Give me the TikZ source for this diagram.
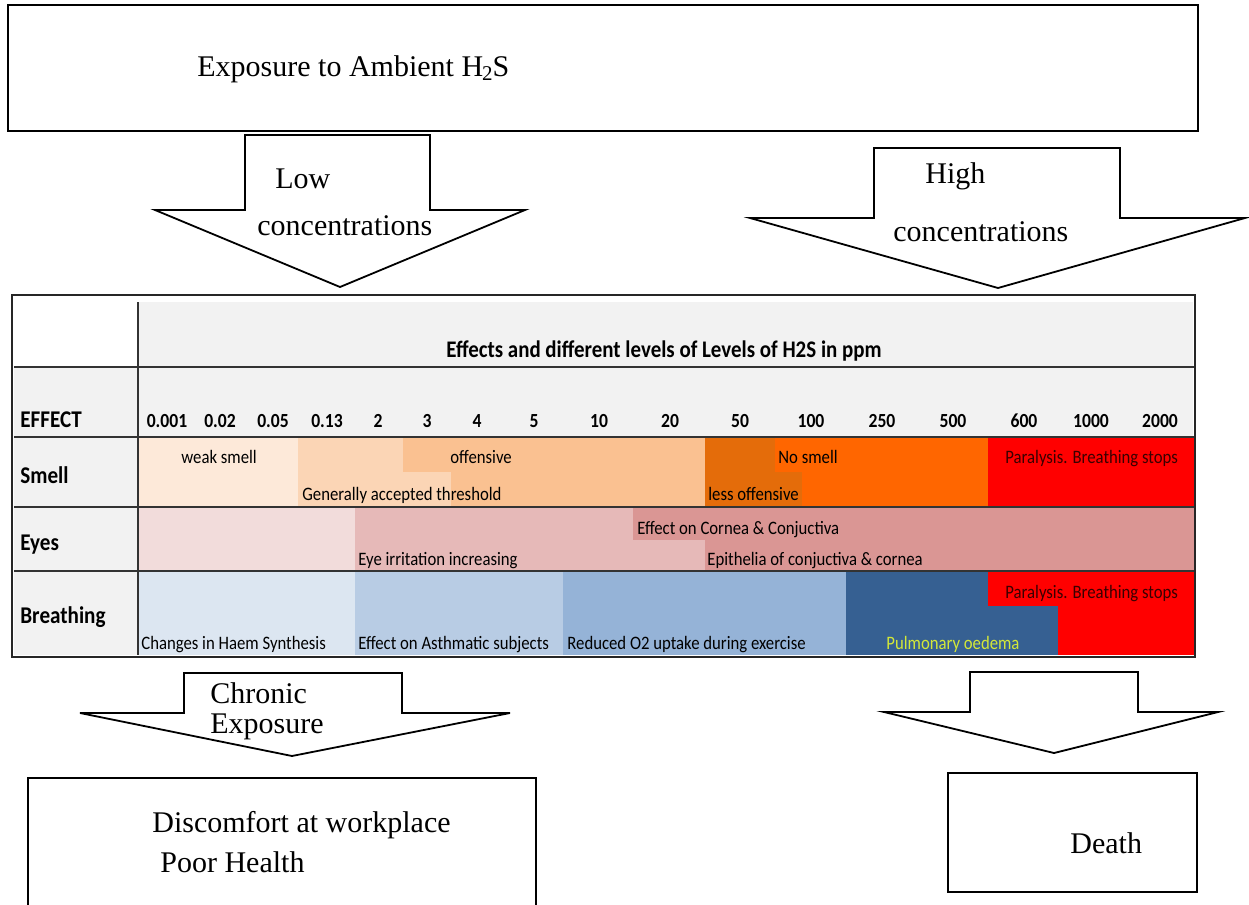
\documentclass[tikz,border=0pt]{standalone}
\usepackage{fontspec}
\setmainfont{Liberation Serif}
\newfontfamily\tabfont{Carlito}[FakeStretch=0.88]
\definecolor{hdr}{HTML}{F2F2F2}
\definecolor{smA}{HTML}{FDE9D9}
\definecolor{smB}{HTML}{FBD5B5}
\definecolor{smC}{HTML}{FAC191}
\definecolor{smD}{HTML}{E46C0A}
\definecolor{smE}{HTML}{FF6600}
\definecolor{hot}{HTML}{FF0000}
\definecolor{eyA}{HTML}{F2DCDB}
\definecolor{eyB}{HTML}{E6B9B8}
\definecolor{eyC}{HTML}{DA9694}
\definecolor{brA}{HTML}{DCE6F1}
\definecolor{brB}{HTML}{B8CCE4}
\definecolor{brC}{HTML}{95B3D7}
\definecolor{brD}{HTML}{366092}
\definecolor{pulm}{HTML}{D4E838}
\definecolor{darkred}{HTML}{3A0000}
\definecolor{gridc}{HTML}{333333}
\begin{document}
\begin{tikzpicture}[x=0.5pt,y=-0.5pt,
  serif/.style={font=\fontsize{15}{18}\selectfont, inner sep=0pt, anchor=base west},
  cell/.style={font=\tabfont\fontsize{9.5}{11}\selectfont, inner sep=0pt, anchor=base west, text=black},
  lab/.style={font=\tabfont\bfseries\fontsize{12}{14}\selectfont, inner sep=0pt, anchor=base west, text=black},
  num/.style={font=\tabfont\bfseries\fontsize{10}{12}\selectfont, inner sep=0pt, anchor=base, text=black},
  blockarrow/.style={draw=black, line width=0.9pt, fill=white, line join=miter},
  boxline/.style={draw=black, line width=0.9pt},
  gridline/.style={draw=gridc, line width=1.1pt}]
\useasboundingbox (0,0) rectangle (1249,905);
\fill[white] (0,0) rectangle (1249,905);

% top box
\draw[boxline] (8,5) rectangle (1198,131);
\node[serif] (expo) at (197,76) {Exposure to Ambient H\kern-0.5pt\textsubscript{2}\kern-0.5pt S};

% low / high arrows
\draw[blockarrow] (245,135) -- (430,135) -- (430,210) -- (525,210) -- (340,287) -- (155,210) -- (245,210) -- cycle;
\node[serif] (low1) at (275,188) {Low};
\node[serif] (low2) at (257,235) {concentrations};
\draw[blockarrow] (874,148) -- (1120,148) -- (1120,218) -- (1245,218) -- (998,288) -- (750,218) -- (874,218) -- cycle;
\node[serif] (high1) at (925,183) {High};
\node[serif] (high2) at (893,241) {concentrations};

% table backgrounds
\fill[white] (12,295) rectangle (1195,657);
\fill[hdr] (138,302) rectangle (1193,437);
\fill[hdr] (14,367) rectangle (138,655);
% smell row
\fill[smA] (138,437) rectangle (298,507);
\fill[smB] (298,437) rectangle (403,472);
\fill[smB] (298,472) rectangle (451,507);
\fill[smC] (403,437) rectangle (705,472);
\fill[smC] (451,472) rectangle (705,507);
\fill[smD] (705,437) rectangle (775,472);
\fill[smD] (705,472) rectangle (802,507);
\fill[smE] (775,437) rectangle (988,472);
\fill[smE] (802,472) rectangle (988,507);
\fill[hot] (988,437) rectangle (1195,507);
% eyes row
\fill[eyA] (138,507) rectangle (355,571);
\fill[eyB] (355,507) rectangle (633,540);
\fill[eyB] (355,540) rectangle (705,571);
\fill[eyC] (633,507) rectangle (1195,540);
\fill[eyC] (705,540) rectangle (1195,571);
% breathing row
\fill[brA] (138,571) rectangle (355,655);
\fill[brB] (355,571) rectangle (563,655);
\fill[brC] (563,571) rectangle (846,655);
\fill[brD] (846,571) rectangle (988,606);
\fill[brD] (846,606) rectangle (1058,655);
\fill[hot] (988,571) rectangle (1195,606);
\fill[hot] (1058,606) rectangle (1195,655);

% grid
\draw[gridline] (14,367) -- (1195,367);
\draw[gridline] (14,437) -- (1195,437);
\draw[gridline] (14,507) -- (1195,507);
\draw[gridline] (14,571) -- (1195,571);
\draw[gridline] (138,302) -- (138,655);
\draw[draw=black!85, line width=1.3pt] (12,295) rectangle (1195,657);

% header texts
\node[font=\tabfont\bfseries\fontsize{11.9}{14}\selectfont, inner sep=0pt, anchor=base west, text=black] (title) at (446,357) {Effects and different levels of Levels of H2S in ppm};
\node[lab] (effect) at (20,427) {EFFECT};
\node[num] (n1) at (167,427) {0.001};
\node[num] (n2) at (220,427) {0.02};
\node[num] (n3) at (273,427) {0.05};
\node[num] (n4) at (327,427) {0.13};
\node[num] (n5) at (378,427) {2};
\node[num] (n6) at (427,427) {3};
\node[num] (n7) at (477,427) {4};
\node[num] (n8) at (534,427) {5};
\node[num] (n9) at (599,427) {10};
\node[num] (n10) at (670,427) {20};
\node[num] (n11) at (740,427) {50};
\node[num] (n12) at (811,427) {100};
\node[num] (n13) at (882,427) {250};
\node[num] (n14) at (953,427) {500};
\node[num] (n15) at (1024,427) {600};
\node[num] (n16) at (1091,427) {1000};
\node[num] (n17) at (1160,427) {2000};

% row labels
\node[lab] (smell) at (20,483) {Smell};
\node[lab] (eyes) at (20,550) {Eyes};
\node[lab] (breath) at (20,623) {Breathing};

% smell texts
\node[cell] (s1) at (181,463) {weak smell};
\node[cell] (s2) at (302,500) {Generally accepted threshold};
\node[cell] (s3) at (450,463) {offensive};
\node[cell] (s4) at (708,500) {less offensive};
\node[cell] (s5) at (778,463) {No smell};
\node[cell, text=darkred] (s6) at (1005,463) {Paralysis. Breathing stops};

% eyes texts
\node[cell] (e1) at (358,565) {Eye irritation increasing};
\node[cell] (e2) at (637,534) {Effect on Cornea \& Conjuctiva};
\node[cell] (e3) at (707,565) {Epithelia of conjuctiva \& cornea};

% breathing texts
\node[cell] (b1) at (141,649) {Changes in Haem Synthesis};
\node[cell] (b2) at (358,649) {Effect on Asthmatic subjects};
\node[cell] (b3) at (567,649) {Reduced O2 uptake during exercise};
\node[cell, text=pulm] (b4) at (886,649) {Pulmonary oedema};
\node[cell, text=darkred] (b5) at (1005,598) {Paralysis. Breathing stops};

% bottom arrows
\draw[blockarrow] (184,673) -- (402,673) -- (402,713) -- (510,713) -- (292,756) -- (80,713) -- (184,713) -- cycle;
\node[serif] (chr1) at (210,703) {Chronic};
\node[serif] (chr2) at (210,733) {Exposure};
\draw[blockarrow] (970,672) -- (1138,672) -- (1138,712) -- (1218,712) -- (1054,753) -- (884,712) -- (970,712) -- cycle;

% outcome boxes
\draw[boxline] (28,910) -- (28,778) -- (536,778) -- (536,910);
\node[serif] (disc) at (152,832) {Discomfort at workplace};
\node[serif] (poor) at (160,872) {Poor Health};
\draw[boxline] (948,773) rectangle (1197,892);
\node[serif] (death) at (1070,853) {Death};
\end{tikzpicture}
\end{document}
